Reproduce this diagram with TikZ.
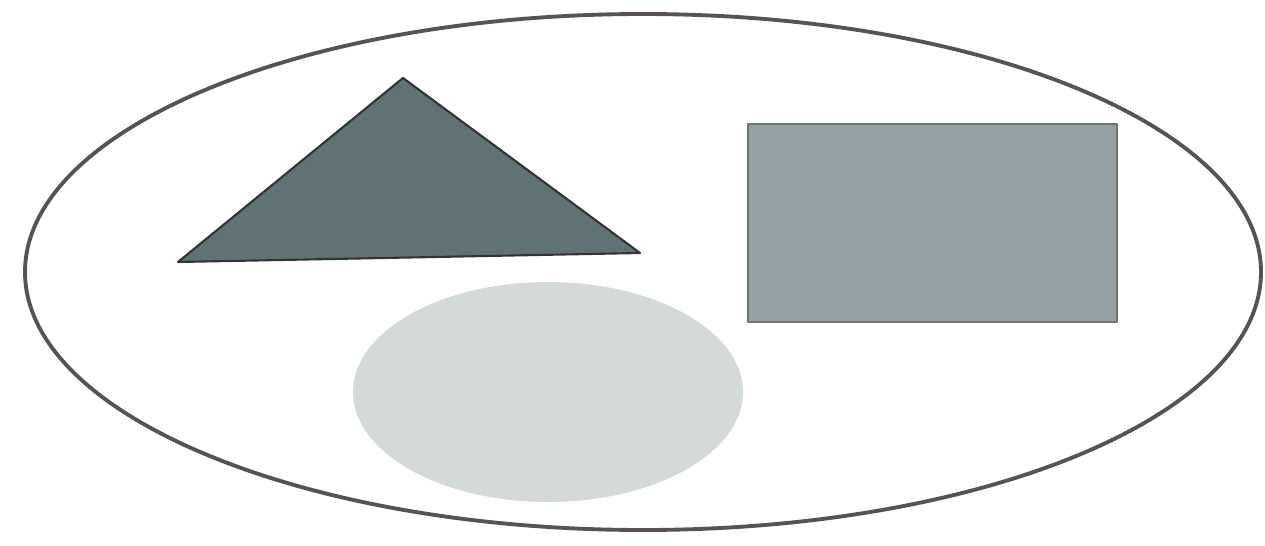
\documentclass[tikz,border=0pt]{standalone}
\usepackage{tikz}
\usetikzlibrary{calc}
\definecolor{trifill}{HTML}{5F7276}
\definecolor{rectfill}{HTML}{93A1A4}
\definecolor{discfill}{HTML}{D4DADA}
\definecolor{rim}{HTML}{5A5252}
\begin{document}
\begin{tikzpicture}[
  x=1cm,y=1cm,
  line cap=round,line join=round
]
  \tikzset{
    boundary/.style={line width=1.1pt, draw=rim},
    solid tri/.style={fill=trifill, draw=black!80, line width=0.6pt},
    solid rect/.style={fill=rectfill, draw=black!55, line width=0.5pt},
    solid disc/.style={fill=discfill, draw=none}
  }
  \useasboundingbox (0,0) rectangle (12.65,5.45);

  % Outer region
  \coordinate (O) at (6.43,2.73);
  \draw[boundary] (O) ellipse [x radius=6.18, y radius=2.58];

  % Triangle
  \coordinate (T1) at (4.03,4.67);
  \coordinate (T2) at (1.78,2.83);
  \coordinate (T3) at (6.40,2.92);
  \draw[solid tri] (T1) -- (T2) -- (T3) -- cycle;

  % Rectangle
  \coordinate (R1) at (7.48,2.23);
  \coordinate (R2) at (11.17,4.21);
  \draw[solid rect] (R1) rectangle (R2);

  % Disc
  \coordinate (D) at (5.48,1.53);
  \fill[solid disc] (D) ellipse [x radius=1.95, y radius=1.10];
\end{tikzpicture}
\end{document}
